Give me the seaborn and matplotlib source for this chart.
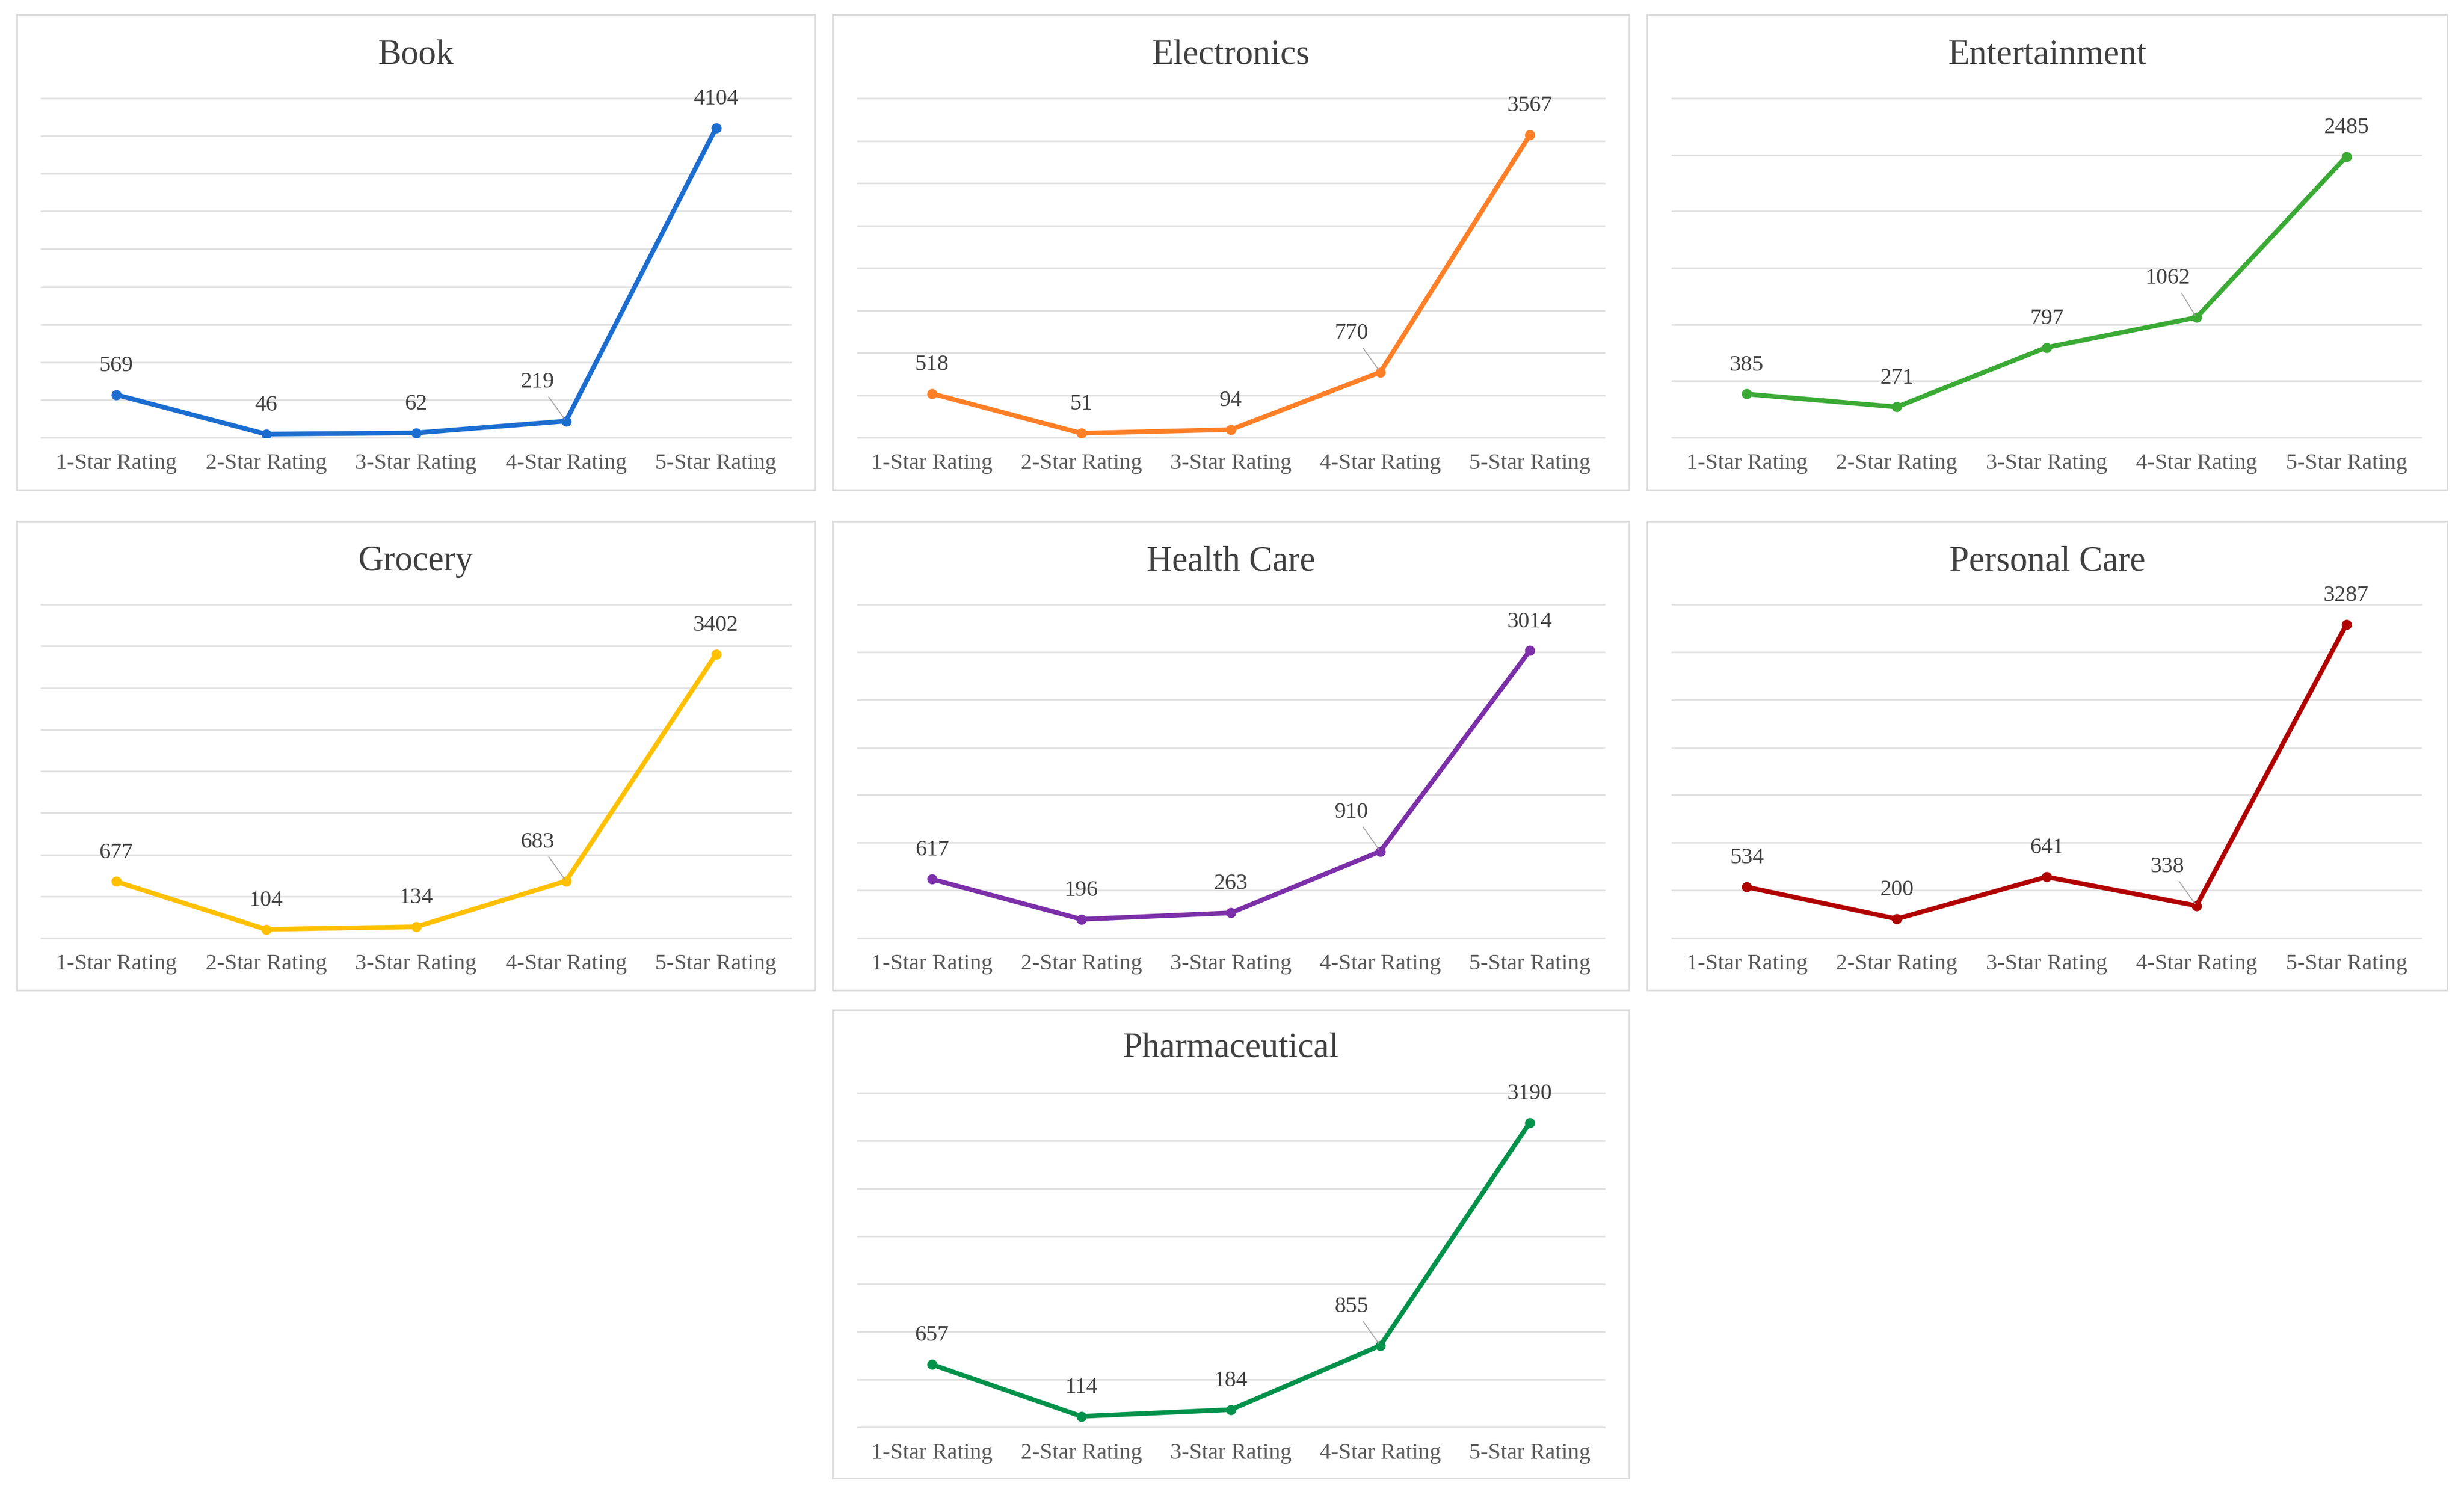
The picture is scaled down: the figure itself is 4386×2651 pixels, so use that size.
import matplotlib
matplotlib.use("Agg")
import matplotlib.pyplot as plt
import seaborn as sns
import pandas as pd
from matplotlib.patches import Rectangle

categories = ["1-Star Rating", "2-Star Rating", "3-Star Rating", "4-Star Rating", "5-Star Rating"]

book = [569, 46, 62, 219, 4104]
electronics = [518, 51, 94, 770, 3567]
entertainment = [385, 271, 797, 1062, 2485]
grocery = [677, 104, 134, 683, 3402]
health_care = [617, 196, 263, 910, 3014]
personal_care = [534, 200, 641, 338, 3287]
pharmaceutical = [657, 114, 184, 855, 3190]

titles = ["Book", "Electronics", "Entertainment", "Grocery", "Health Care", "Personal Care", "Pharmaceutical"]
series = [book, electronics, entertainment, grocery, health_care, personal_care, pharmaceutical]
colors = ["#1C6DD0", "#FF7F27", "#3AAA35", "#FFC000", "#7B2FA8", "#B00000", "#00914A"]
ymaxs = [4500, 4000, 3000, 4000, 3500, 3500, 3500]

sns.set_theme(style="white")
plt.rcParams["font.family"] = ["Liberation Serif", "DejaVu Serif"]

W, H = 4386, 2651
fig = plt.figure(figsize=(W / 100, H / 100), dpi=100)
fig.patch.set_facecolor("white")

# layout in pixels: (box_left, box_right), (grid_left, grid_right)
cols = [((30, 1450), (73, 1408)), ((1482, 2900), (1526, 2856)), ((2932, 4356), (2976, 4310))]
# rows: (box_top, box_bottom), (grid_top, grid_bottom), title_y
rows = [((26, 872), (175, 779), 98), ((928, 1763), (1076, 1670), 1000), ((1798, 2632), (1946, 2541), 1866)]
slots = [(0, 0), (0, 1), (0, 2), (1, 0), (1, 1), (1, 2), (2, 1)]

for idx, (title, vals, col, ymax) in enumerate(zip(titles, series, colors, ymaxs)):
    r, c = slots[idx]
    (bl, br), (gl, gr) = cols[c]
    (bt, bb), (gt, gb), ty = rows[r]
    # panel border
    fig.add_artist(Rectangle((bl / W, 1 - bb / H), (br - bl) / W, (bb - bt) / H,
                             transform=fig.transFigure, fill=False,
                             edgecolor="#D9D9D9", linewidth=2.0))
    ax = fig.add_axes([gl / W, 1 - gb / H, (gr - gl) / W, (gb - gt) / H])
    df = pd.DataFrame({"rating": categories, "count": vals})
    sns.lineplot(data=df, x="rating", y="count", ax=ax, color=col, marker="o",
                 linewidth=6.0, markersize=13, markeredgewidth=0, sort=False)
    ax.set_xlim(-0.5, len(categories) - 0.5)
    ax.set_ylim(0, ymax)
    ax.set_yticks(range(0, ymax + 1, 500))
    ax.set_yticklabels([])
    ax.set_xlabel("")
    ax.set_ylabel("")
    for s in ax.spines.values():
        s.set_visible(False)
    ax.yaxis.grid(True, color="#E0E0E0", linewidth=2.0)
    ax.xaxis.grid(False)
    ax.set_axisbelow(True)
    for gl_ in ax.get_ygridlines():
        gl_.set_clip_on(False)
    ax.tick_params(axis="both", length=0)
    ax.tick_params(axis="x", pad=20, labelsize=29, labelcolor="#595959")
    ax.set_facecolor("none")
    for i, v in enumerate(vals):
        if i == 3:
            ax.annotate(str(v), xy=(i, v), xytext=(-37, 50), textcoords="offset points",
                        ha="center", va="center", fontsize=29, color="#404040",
                        arrowprops=dict(arrowstyle="-", color="#A6A6A6", lw=1.3,
                                        relpos=(0.75, 0.0), shrinkA=4, shrinkB=3))
        else:
            ax.annotate(str(v), xy=(i, v), xytext=(0, 37), textcoords="offset points",
                        ha="center", va="center", fontsize=29, color="#404040")
    fig.text(((bl + br) / 2) / W, 1 - ty / H, title, ha="center", va="center",
             fontsize=45, color="#404040")

fig.savefig("out.png", dpi=100, facecolor="white")
